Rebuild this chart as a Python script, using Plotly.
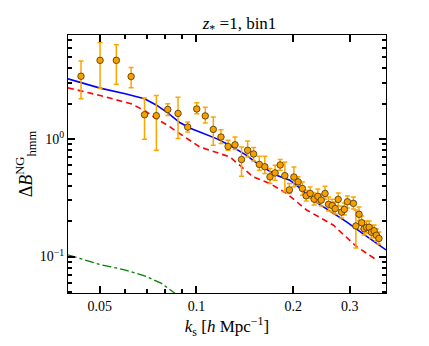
import plotly.graph_objects as go

# ---- data ----
k_data = [0.0437, 0.0501, 0.0563, 0.0626, 0.0689, 0.0750, 0.0814, 0.0876, 0.0939, 0.1002,
          0.1065, 0.1128, 0.1192, 0.1254, 0.1318, 0.1381, 0.1443, 0.1506, 0.1569, 0.1632,
          0.1694, 0.1757, 0.1822, 0.1884, 0.1946, 0.2010, 0.2072, 0.2136, 0.2195, 0.2259,
          0.2325, 0.2387, 0.2445, 0.2513, 0.2577, 0.2645, 0.2703, 0.2762, 0.2830, 0.2887,
          0.2950, 0.3080, 0.3135, 0.3207, 0.3268, 0.3325, 0.3385, 0.3447, 0.3504, 0.3573,
          0.3631, 0.3698]
b_data = [3.42, 4.67, 4.67, 3.40, 1.61, 1.58, 1.785, 1.651, 1.264, 1.803,
          1.573, 1.208, 1.04, 0.864, 0.893, 0.669, 0.802, 0.746, 0.608, 0.581,
          0.4765, 0.515, 0.601, 0.488, 0.369, 0.475, 0.432, 0.380, 0.329, 0.3445,
          0.308, 0.325, 0.302, 0.3445, 0.278, 0.2716, 0.256, 0.3065, 0.239, 0.252,
          0.2924, 0.2835, 0.182, 0.2288, 0.194, 0.1724, 0.1775, 0.1775, 0.161, 0.1658,
          0.1518, 0.1426]
b_hi = [4.62, 6.64, 6.35, 4.05, 2.23, 2.35, 2.0, 2.27, 1.393, 2.035,
        1.867, 1.536, 1.201, 0.975, 1.04, 0.855, 0.962, 0.846, 0.714, 0.714,
        0.561, 0.598, 0.669, 0.638, 0.419, 0.579, 0.4765, 0.430, 0.367, 0.390,
        0.3467, 0.375, 0.340, 0.397, 0.3206, 0.308, 0.291, 0.3467, 0.269, 0.285,
        0.327, 0.3206, 0.249, 0.2637, 0.2213, 0.1968, 0.2007, 0.2007, 0.182, 0.1857,
        0.1717, 0.162]
b_lo = [2.20, 2.71, 2.92, 2.73, 0.994, 0.802, 1.588, 1.008, 1.146, 1.641,
        1.372, 0.884, 0.914, 0.802, 0.813, 0.483, 0.704, 0.651, 0.543, 0.509,
        0.419, 0.447, 0.543, 0.356, 0.344, 0.392, 0.405, 0.333, 0.2965, 0.3145,
        0.274, 0.285, 0.269, 0.308, 0.244, 0.239, 0.230, 0.269, 0.213, 0.2256,
        0.2586, 0.2536, 0.118, 0.2007, 0.1717, 0.1527, 0.1588, 0.1588, 0.144, 0.1498,
        0.1359, 0.128]

k_blue = [0.0398, 0.0501, 0.0600, 0.0689, 0.0749, 0.0814, 0.0887, 0.0960, 0.1024, 0.1154,
          0.1269, 0.1432, 0.1575, 0.1775, 0.1953, 0.2099, 0.2307, 0.2602, 0.2933, 0.3304,
          0.389]
b_blue = [3.25, 2.71, 2.43, 2.20, 1.95, 1.667, 1.38, 1.23, 1.146, 1.008,
          0.884, 0.727, 0.598, 0.4925, 0.447, 0.382, 0.302, 0.244, 0.197, 0.1557,
          0.114]

k_red = [0.0398, 0.0501, 0.0626, 0.0689, 0.0748, 0.0814, 0.0887, 0.1024, 0.1182, 0.1269,
         0.1364, 0.150, 0.1691, 0.1907, 0.2202, 0.2663, 0.315, 0.3671]
b_red = [2.727, 2.346, 1.995, 1.751, 1.489, 1.306, 1.111, 0.855, 0.752, 0.704,
         0.598, 0.4765, 0.419, 0.3445, 0.249, 0.1857, 0.1216, 0.092]

k_green = [0.0398, 0.0504, 0.0597, 0.0689, 0.0775, 0.0854, 0.0887]
b_green = [0.1034, 0.0851, 0.0772, 0.0686, 0.0595, 0.049, 0.044]

x_ticks = [0.05, 0.1, 0.2, 0.3]
x_ticklabels = ["0.05", "0.1", "0.2", "0.3"]
x_minor = [0.04, 0.06, 0.07, 0.08, 0.09]
y_ticks = [0.1, 1]
y_ticklabels = ["10<sup>−1</sup>", "10<sup>0</sup>"]
y_minor = [0.05, 0.06, 0.07, 0.08, 0.09, 0.2, 0.3, 0.4, 0.5, 0.6, 0.7, 0.8, 0.9,
           2, 3, 4, 5, 6, 7]

SERIF = "Liberation Serif, DejaVu Serif, serif"

fig = go.Figure()
fig.add_trace(go.Scatter(x=k_green, y=b_green, mode="lines",
                         line=dict(color="green", width=1.3, dash="dashdot")))
fig.add_trace(go.Scatter(x=k_red, y=b_red, mode="lines",
                         line=dict(color="red", width=1.6, dash="6px,4px")))
fig.add_trace(go.Scatter(x=k_blue, y=b_blue, mode="lines",
                         line=dict(color="blue", width=1.6)))
fig.add_trace(go.Scatter(
    x=k_data, y=b_data, mode="markers",
    marker=dict(color="#F5A000", size=6.5, line=dict(color="#4a3000", width=0.8)),
    error_y=dict(type="data", symmetric=False,
                 array=[h - v for h, v in zip(b_hi, b_data)],
                 arrayminus=[v - l for v, l in zip(b_data, b_lo)],
                 color="#FFA500", thickness=1.5, width=2.5)))

tickfont = dict(family=SERIF, size=14, color="black")
axis_common = dict(showline=True, linecolor="black", linewidth=1.2, mirror="allticks",
                   ticks="inside", tickcolor="black", tickwidth=1.5, showgrid=False,
                   zeroline=False, tickfont=tickfont)

fig.update_xaxes(type="log", range=[-1.4, -0.41], tickmode="array",
                 tickvals=x_ticks, ticktext=x_ticklabels, ticklen=7,
                 minor=dict(tickmode="array", tickvals=x_minor, ticks="inside",
                            ticklen=4, tickcolor="black", tickwidth=1.5),
                 title=dict(text="<i>k</i><sub>s</sub> [<i>h</i> Mpc<sup>−1</sup>]",
                            font=dict(family=SERIF, size=17, color="black"), standoff=4),
                 **axis_common)
fig.update_yaxes(type="log", range=[-1.31, 0.885], tickmode="array",
                 tickvals=y_ticks, ticktext=y_ticklabels, ticklen=7,
                 minor=dict(tickmode="array", tickvals=y_minor, ticks="inside",
                            ticklen=4, tickcolor="black", tickwidth=1.5),
                 title=dict(text="Δ<i>B</i><sup>NG</sup><sub>hmm</sub>",
                            font=dict(family=SERIF, size=18, color="black"), standoff=2),
                 **axis_common)

fig.update_layout(
    width=421, height=338,
    margin=dict(l=60, r=43, t=27, b=53),
    paper_bgcolor="white", plot_bgcolor="white",
    showlegend=False,
    title=dict(text="<i>z</i><sub>*</sub> =1, bin1", x=0.55, xanchor="center",
               y=0.955, yanchor="middle",
               font=dict(family=SERIF, size=17, color="black")),
)

fig.write_html("out.html")
